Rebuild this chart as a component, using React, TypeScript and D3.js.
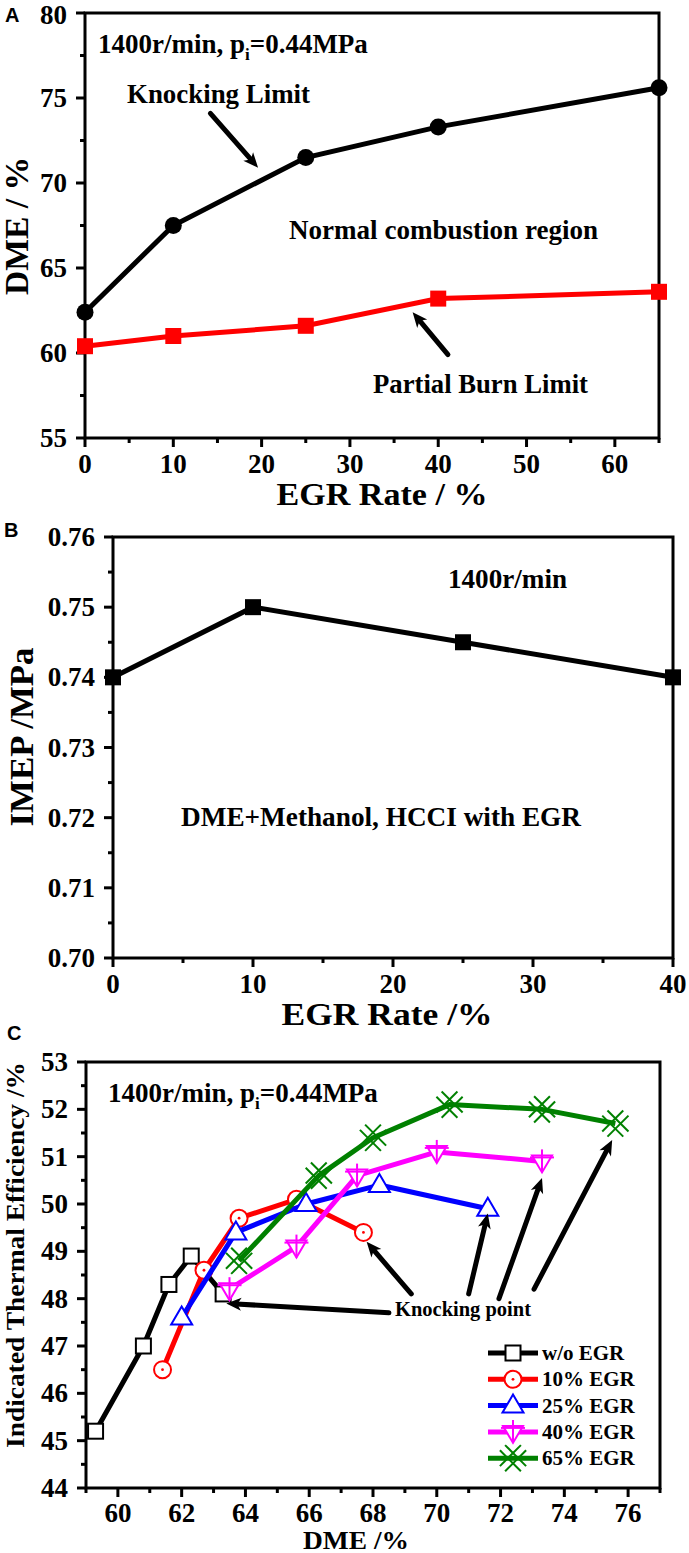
import React from 'react';
import * as d3 from 'd3';

const SERIF = "'Liberation Serif', 'Times New Roman', Times, serif";
const SANS = "'Liberation Sans', Arial, Helvetica, sans-serif";

// Panel A: DME limits vs EGR rate
const A_EGR = [0, 10, 25, 40, 65];
const A_KNOCK = [62.4, 67.5, 71.5, 73.3, 75.6];
const A_PARTIAL = [60.4, 61.0, 61.6, 63.2, 63.6];
const A_X_TICKS = [0, 10, 20, 30, 40, 50, 60];
const A_Y_TICKS = [55, 60, 65, 70, 75, 80];

// Panel B: IMEP vs EGR rate
const B_EGR = [0, 10, 25, 40];
const B_IMEP = [0.74, 0.75, 0.745, 0.74];
const B_X_TICKS = [0, 10, 20, 30, 40];
const B_Y_TICKS = [0.7, 0.71, 0.72, 0.73, 0.74, 0.75, 0.76];

// Panel C: indicated thermal efficiency vs DME
const C_WO_DME = [59.3, 60.8, 61.6, 62.3, 63.3];
const C_WO_ITE = [45.2, 47.0, 48.3, 48.9, 48.1];
const C_10_DME = [61.4, 62.7, 63.8, 65.6, 67.7];
const C_10_ITE = [46.5, 48.6, 49.7, 50.1, 49.4];
const C_25_DME = [62.0, 63.7, 65.9, 68.2, 71.6];
const C_25_ITE = [47.6, 49.4, 50.0, 50.4, 49.9];
const C_40_DME = [63.5, 65.6, 67.5, 70.0, 73.3];
const C_40_ITE = [48.2, 49.1, 50.6, 51.1, 50.9];
const C_65_DME = [63.8, 66.3, 68.0, 70.4, 73.3, 75.6];
const C_65_ITE = [48.8, 50.6, 51.4, 52.1, 52.0, 51.7];
const C_LABELS = ['w/o EGR', '10% EGR', '25% EGR', '40% EGR', '65% EGR'];
const C_X_TICKS = [60, 62, 64, 66, 68, 70, 72, 74, 76];
const C_Y_TICKS = [44, 45, 46, 47, 48, 49, 50, 51, 52, 53];

// annotation arrows, in data units: [tailX, tailY, headX, headY]
const A_ARROWS = [
  [14.2, 74.1, 19.6, 70.9],
  [41.1, 59.9, 37.1, 62.4],
];
const C_ARROWS = [
  [68.5, 47.7, 63.4, 47.9],
  [69.2, 48.1, 67.8, 49.2],
  [71.0, 48.1, 71.6, 49.8],
  [71.95, 48.0, 73.3, 50.55],
  [73.05, 48.2, 75.5, 51.35],
];

type Scale = d3.ScaleLinear<number, number>;
type Pt = { x: number; y: number };

const zip = (xs: number[], ys: number[]): Pt[] => xs.map((x, i) => ({ x, y: ys[i] }));

function Axes({ x, y, xTicks, yTicks, xMinor, yMinor, xFmt, yFmt, xLabelDy }: {
  x: Scale; y: Scale; xTicks: number[]; yTicks: number[]; xMinor: number[]; yMinor: number[];
  xFmt: (v: number) => string; yFmt: (v: number) => string; xLabelDy: number;
}) {
  const [x0, x1] = x.range();
  const [yb, yt] = y.range();
  return (
    <g fontFamily={SERIF} fontWeight="bold" fontSize={27} fill="#000">
      {xMinor.map((v) => (
        <line key={'xm' + v} x1={x(v)} x2={x(v)} y1={yb} y2={yb + 5} stroke="#000" strokeWidth={3} />
      ))}
      {xTicks.map((v) => (
        <line key={'xt' + v} x1={x(v)} x2={x(v)} y1={yb} y2={yb + 9} stroke="#000" strokeWidth={3} />
      ))}
      {yMinor.map((v) => (
        <line key={'ym' + v} x1={x0 - 5} x2={x0} y1={y(v)} y2={y(v)} stroke="#000" strokeWidth={3} />
      ))}
      {yTicks.map((v) => (
        <line key={'yt' + v} x1={x0 - 9} x2={x0} y1={y(v)} y2={y(v)} stroke="#000" strokeWidth={3} />
      ))}
      <rect x={x0} y={yt} width={x1 - x0} height={yb - yt} fill="none" stroke="#000" strokeWidth={3} />
      {xTicks.map((v) => (
        <text key={'xl' + v} x={x(v)} y={yb + xLabelDy} textAnchor="middle">{xFmt(v)}</text>
      ))}
      {yTicks.map((v) => (
        <text key={'yl' + v} x={x0 - 18} y={Math.max(y(v) + 9, 24)} textAnchor="end">{yFmt(v)}</text>
      ))}
    </g>
  );
}

function Arrow({ x1, y1, x2, y2, w = 5, len = 15, half = 6.5 }: {
  x1: number; y1: number; x2: number; y2: number; w?: number; len?: number; half?: number;
}) {
  const dx = x2 - x1, dy = y2 - y1;
  const d = Math.hypot(dx, dy);
  const ux = dx / d, uy = dy / d;
  const bx = x2 - ux * len, by = y2 - uy * len;
  const pts = [
    [x2, y2],
    [bx - uy * half, by + ux * half],
    [x2 - ux * (len - 4), y2 - uy * (len - 4)],
    [bx + uy * half, by - ux * half],
  ];
  return (
    <g>
      <line x1={x1} y1={y1} x2={x2 - ux * (len - 5)} y2={y2 - uy * (len - 5)} stroke="#000" strokeWidth={w} strokeLinecap="round" />
      <polygon points={pts.map((p) => p.join(',')).join(' ')} fill="#000" />
    </g>
  );
}

function Marker({ kind, cx, cy, color }: { kind: string; cx: number; cy: number; color: string }) {
  const sw = 2;
  switch (kind) {
    case 'dot':
      return <circle cx={cx} cy={cy} r={8.5} fill={color} />;
    case 'block':
      return <rect x={cx - 8} y={cy - 8} width={16} height={16} fill={color} />;
    case 'square':
      return <rect x={cx - 7.5} y={cy - 7.5} width={15} height={15} fill="#fff" stroke={color} strokeWidth={sw} />;
    case 'circleDot':
      return (
        <g>
          <circle cx={cx} cy={cy} r={8.5} fill="#fff" stroke={color} strokeWidth={sw} />
          <circle cx={cx} cy={cy} r={1.4} fill={color} />
        </g>
      );
    case 'triangle':
      return (
        <polygon
          points={`${cx},${cy - 11} ${cx + 10.5},${cy + 7} ${cx - 10.5},${cy + 7}`}
          fill="#fff" stroke={color} strokeWidth={sw} />
      );
    case 'triDown':
      return (
        <g stroke={color} strokeWidth={sw}>
          <polygon points={`${cx - 10},${cy - 6} ${cx + 10},${cy - 6} ${cx},${cy + 11}`} fill="#fff" />
          <line x1={cx} x2={cx} y1={cy - 12} y2={cy + 11} />
          <line x1={cx - 12} x2={cx + 12} y1={cy - 4} y2={cy - 4} />
        </g>
      );
    case 'xx': {
      const s = 10.5, o = 2.6;
      return (
        <g stroke={color} strokeWidth={sw} fill="none">
          <line x1={cx - s + o} y1={cy - s - o} x2={cx + s + o} y2={cy + s - o} />
          <line x1={cx - s - o} y1={cy - s + o} x2={cx + s - o} y2={cy + s + o} />
          <line x1={cx - s - o} y1={cy + s - o} x2={cx + s - o} y2={cy - s - o} />
          <line x1={cx - s + o} y1={cy + s + o} x2={cx + s + o} y2={cy - s + o} />
        </g>
      );
    }
    default:
      return null;
  }
}

function Label({ x, y, children, size = 27, width, anchor = 'start', rotate = false }: {
  x: number; y: number; children: React.ReactNode; size?: number; width?: number; anchor?: string; rotate?: boolean;
}) {
  return (
    <text
      transform={rotate ? `translate(${x},${y}) rotate(-90)` : undefined}
      x={rotate ? 0 : x}
      y={rotate ? 0 : y}
      fontFamily={SERIF}
      fontWeight="bold"
      fontSize={size}
      textAnchor={anchor}
      textLength={width}
      lengthAdjust={width ? 'spacingAndGlyphs' : undefined}
      fill="#000"
    >
      {children}
    </text>
  );
}

function PanelA() {
  const x = d3.scaleLinear().domain([0, 65]).range([85, 659]);
  const y = d3.scaleLinear().domain([55, 80]).range([438, 13]);
  const line = d3.line<Pt>().x((d) => x(d.x)).y((d) => y(d.y));
  const knock = zip(A_EGR, A_KNOCK);
  const partial = zip(A_EGR, A_PARTIAL);
  return (
    <g>
      <text x={5} y={22} fontFamily={SANS} fontWeight="bold" fontSize={20}>A</text>
      <Axes x={x} y={y} xTicks={A_X_TICKS} yTicks={A_Y_TICKS}
        xMinor={d3.range(5, 66, 10)} yMinor={d3.range(57.5, 80, 5)}
        xFmt={(v) => String(v)} yFmt={(v) => String(v)} xLabelDy={35} />
      <path d={line(partial) ?? ''} fill="none" stroke="#ff0000" strokeWidth={5} />
      <path d={line(knock) ?? ''} fill="none" stroke="#000" strokeWidth={5} />
      {partial.map((d, i) => <Marker key={'p' + i} kind="block" cx={x(d.x)} cy={y(d.y)} color="#ff0000" />)}
      {knock.map((d, i) => <Marker key={'k' + i} kind="dot" cx={x(d.x)} cy={y(d.y)} color="#000" />)}
      {A_ARROWS.map((a, i) => <Arrow key={i} x1={x(a[0])} y1={y(a[1])} x2={x(a[2])} y2={y(a[3])} />)}
      <Label x={98} y={53}>
        1400r/min, p<tspan fontSize={17} dy={7}>i</tspan><tspan dy={-7}>=0.44MPa</tspan>
      </Label>
      <Label x={127} y={103} width={183}>Knocking Limit</Label>
      <Label x={289} y={239} width={309}>Normal combustion region</Label>
      <Label x={373} y={393} width={215}>Partial Burn Limit</Label>
      <Label x={28} y={226} size={33} width={138} anchor="middle" rotate>DME / %</Label>
      <Label x={382} y={505} size={32} width={211} anchor="middle">EGR Rate / %</Label>
    </g>
  );
}

function PanelB() {
  const x = d3.scaleLinear().domain([0, 40]).range([113, 673]);
  const y = d3.scaleLinear().domain([0.7, 0.76]).range([958, 537]);
  const line = d3.line<Pt>().x((d) => x(d.x)).y((d) => y(d.y));
  const imep = zip(B_EGR, B_IMEP);
  return (
    <g>
      <text x={4} y={537} fontFamily={SANS} fontWeight="bold" fontSize={20}>B</text>
      <Axes x={x} y={y} xTicks={B_X_TICKS} yTicks={B_Y_TICKS}
        xMinor={d3.range(5, 40, 10)} yMinor={d3.range(0.705, 0.76, 0.01)}
        xFmt={(v) => String(v)} yFmt={(v) => v.toFixed(2)} xLabelDy={35} />
      <path d={line(imep) ?? ''} fill="none" stroke="#000" strokeWidth={5} />
      {imep.map((d, i) => <Marker key={i} kind="block" cx={x(d.x)} cy={y(d.y)} color="#000" />)}
      <Label x={448} y={588} width={119}>1400r/min</Label>
      <Label x={181} y={826} width={400}>DME+Methanol, HCCI with EGR</Label>
      <Label x={33} y={737} size={34} width={179} anchor="middle" rotate>IMEP /MPa</Label>
      <Label x={387} y={1025} size={31} width={211} anchor="middle">EGR Rate /%</Label>
    </g>
  );
}

function PanelC() {
  const x = d3.scaleLinear().domain([59, 77]).range([86, 660]);
  const y = d3.scaleLinear().domain([44, 53]).range([1488, 1062]);
  const line = d3.line<Pt>().x((d) => x(d.x)).y((d) => y(d.y));
  const series = [
    { label: C_LABELS[0], data: zip(C_WO_DME, C_WO_ITE), color: '#000000', kind: 'square' },
    { label: C_LABELS[1], data: zip(C_10_DME, C_10_ITE), color: '#ff0000', kind: 'circleDot' },
    { label: C_LABELS[2], data: zip(C_25_DME, C_25_ITE), color: '#0000ff', kind: 'triangle' },
    { label: C_LABELS[3], data: zip(C_40_DME, C_40_ITE), color: '#ff00ff', kind: 'triDown' },
    { label: C_LABELS[4], data: zip(C_65_DME, C_65_ITE), color: '#008000', kind: 'xx' },
  ];
  const legendY = (i: number) => 1353 + i * 26.3;
  return (
    <g>
      <text x={7} y={1040} fontFamily={SANS} fontWeight="bold" fontSize={20}>C</text>
      <Axes x={x} y={y} xTicks={C_X_TICKS} yTicks={C_Y_TICKS}
        xMinor={d3.range(59, 78, 2)} yMinor={d3.range(44.5, 53, 1)}
        xFmt={(v) => String(v)} yFmt={(v) => String(v)} xLabelDy={34} />
      {series.map((s) => (
        <g key={s.label}>
          <path d={line(s.data) ?? ''} fill="none" stroke={s.color} strokeWidth={5} strokeLinejoin="round" />
          {s.data.map((d, i) => <Marker key={i} kind={s.kind} cx={x(d.x)} cy={y(d.y)} color={s.color} />)}
        </g>
      ))}
      {C_ARROWS.map((a, i) => <Arrow key={i} x1={x(a[0])} y1={y(a[1])} x2={x(a[2])} y2={y(a[3])} />)}
      <Label x={395} y={1316} size={21} width={136}>Knocking point</Label>
      <Label x={108} y={1102}>
        1400r/min, p<tspan fontSize={17} dy={7}>i</tspan><tspan dy={-7}>=0.44MPa</tspan>
      </Label>
      {series.map((s, i) => (
        <g key={'lg' + s.label}>
          <line x1={488} x2={538} y1={legendY(i)} y2={legendY(i)} stroke={s.color} strokeWidth={5} />
          <Marker kind={s.kind} cx={513} cy={legendY(i)} color={s.color} />
          <Label x={542} y={legendY(i) + 7} size={21}>{s.label}</Label>
        </g>
      ))}
      <Label x={24} y={1255} size={26} width={386} anchor="middle" rotate>Indicated Thermal Efficiency /%</Label>
      <Label x={356} y={1549} size={25} width={106} anchor="middle">DME /%</Label>
    </g>
  );
}

export default function App() {
  return (
    <div style={{ position: 'absolute', left: 0, top: 0 }}>
      <svg width={689} height={1553} style={{ display: 'block', background: '#fff' }}>
        <PanelA />
        <PanelB />
        <PanelC />
      </svg>
    </div>
  );
}
